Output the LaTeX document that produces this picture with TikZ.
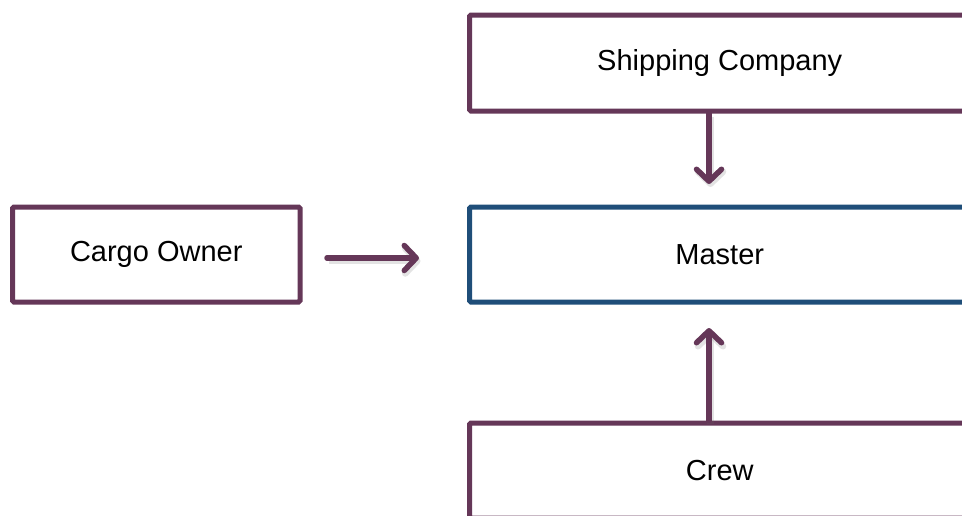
\documentclass[tikz,border=0pt]{standalone}
\usepackage{fontspec}
\setmainfont{Liberation Sans}
\usetikzlibrary{arrows.meta}
\definecolor{plum}{RGB}{101,55,88}
\definecolor{navy}{RGB}{31,78,121}
\tikzset{
  box/.style={draw=plum, line width=5pt, rounded corners=1.5pt, fill=white,
    font=\fontsize{29}{34}\selectfont, inner sep=0pt},
  mainbox/.style={box, draw=navy},
  flow/.style={draw=plum, line width=5.5pt, line cap=round,
    -{Straight Barb[length=12pt, width=25pt, line cap=round, line join=round]},
    preaction={draw=black!60, opacity=0.18, line width=6.5pt,
      transform canvas={shift={(1.5pt,-3pt)}}}}
}
\begin{document}
\begin{tikzpicture}[x=1pt, y=-1pt]
\useasboundingbox (0,0) rectangle (962,515);
\clip (0,0) rectangle (962,515);
\node[box, minimum width=287.5pt, minimum height=95pt] (cargo) at (156.25,254.5) {Cargo Owner};
\node[box, minimum width=500.5pt, minimum height=96pt] (ship) at (719.75,63) {Shipping Company};
\node[mainbox, minimum width=500.5pt, minimum height=95pt] (master) at (719.75,254.5) {Master};
\node[box, minimum width=500.5pt, minimum height=95pt] (crew) at (719.75,470.5) {Crew};
\coordinate (c1) at (327,258);
\coordinate (c2) at (419,258);
\coordinate (s2) at (709,184);
\coordinate (m2) at (709,328);
\draw[flow] (c1) -- (c2);
\draw[flow] (ship.south -| s2) -- (s2);
\draw[flow] (crew.north -| m2) -- (m2);
\end{tikzpicture}
\end{document}
